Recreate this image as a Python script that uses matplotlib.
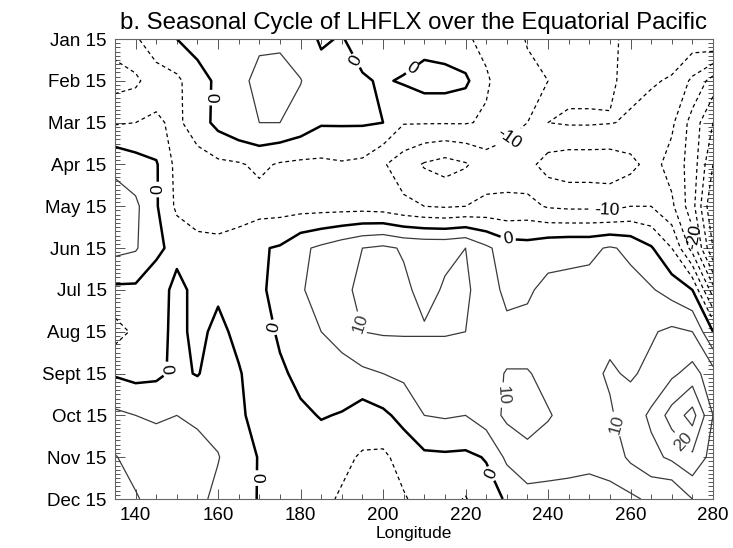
import numpy as np
import matplotlib.pyplot as plt
from matplotlib.ticker import MultipleLocator

plt.rcParams['font.family'] = ['Liberation Sans', 'DejaVu Sans']

lons = [135, 140, 145, 150, 155, 160, 165, 170, 175, 180, 185, 190, 195, 200, 205,
        210, 215, 220, 225, 230, 235, 240, 245, 250, 255, 260, 265, 270, 275, 280]
month_labels = ["Jan 15", "Feb 15", "Mar 15", "Apr 15", "May 15", "Jun 15",
                "Jul 15", "Aug 15", "Sept 15", "Oct 15", "Nov 15", "Dec 15"]

# LHFLX anomaly (W/m2), one list per month
jan = [-8, -5.5, -2.5, 0, 2, 3, 3.5, 4, 4, 2, -0.5, 0.3, -2, -4.5, -3,
       -2, -3, -4.5, -6, -8, -10.3, -11.5, -12, -12, -11.5, -8, -7, -7, -7, -5]
feb = [-12, -11, -7, -6, -2, 1, 3.5, 6.5, 7, 5.2, 1.5, 1, 0.5, -0.5, 0.5,
       2, 2, 1, -4.5, -7, -9, -10, -11, -11, -10.5, -9, -9.5, -10.5, -16, -22]
mar = [-5.5, -5, -4.3, -6, -2.5, 1.5, 4, 5, 5, 3, 0.5, 0.5, 0.5, 0, -4.7,
       -4.7, -4.7, -4.7, -5.5, -8.5, -10, -10, -9.5, -9.5, -9.8, -10.5, -12, -14, -22, -30]
apr = [4, 2, 0.5, -6.5, -7, -6, -5.5, -4, -5.5, -6, -6, -5.5, -6, -9.5, -12.5,
       -15.5, -17, -15.5, -12.5, -12, -13.5, -17, -18, -18, -18, -16.5, -13, -17, -22, -35]
may = [7, 6, 0.5, -6, -6.5, -7, -7, -7, -7, -7, -7, -7, -7, -7.5, -9,
       -10, -10.5, -10, -9, -9, -8.5, -10.5, -11, -11, -11.5, -10, -10, -14, -23, -40]
jun = [6.5, 5.5, 1, -1.5, -4, -4, -3, -0.5, 0.5, 4, 6, 8, 10, 11, 9.5,
       9, 9, 10, 6, 2.5, 2, 3.5, 4, 4, 5.5, 4, 0.5, -5, -17, -35]
jul = [-1, -1, -2.5, 1.5, -1.5, -1, -2, -1, 2, 4.5, 7, 9, 11, 12, 11,
       8.5, 10.5, 11, 7, 4, 4.5, 6, 6, 6.5, 7, 6.5, 5.5, 3, 0, -18]
aug = [-7, -4, -2, 1.5, -1.5, 1.5, -1.5, -3, 1, 3, 5, 7, 10, 10.5, 10.5,
       10.5, 10.5, 10, 7, 6, 6, 7, 7.5, 8.5, 9, 8.5, 9.5, 11, 10, 0]
sep = [-0.5, -1.5, -1, 1, -0.3, 2.5, 0.5, -3, -1, 1.5, 2.5, 3, 4, 5, 6,
       6, 6, 6, 7, 10.5, 10.5, 8, 8, 9, 10.5, 9.5, 11, 14, 17, 12]
oct_ = [6, 5, 4.5, 5, 4.5, 3.5, 1, -2, -2, -1, 0.3, -0.3, -2.5, -1, 1.5,
        5, 5.5, 5, 7.5, 11, 12, 10.5, 8, 8.5, 9.5, 12, 16, 22, 27, 15]
nov = [10.3, 8, 7, 6.5, 6, 5.2, 2.5, -0.3, -3, -3, -2.5, -4, -5.5, -6, -3,
       -1, -0.8, -1, 0.3, 6, 8.5, 7, 5.5, 6, 7, 11, 13.5, 16, 19, 13]
dec = [13, 10.5, 8, 7, 6, 4, 2, -0.3, -2, -3, -4, -5.5, -7, -6.5, -5.5,
       -3, -3.5, -5.3, -2, 0.5, 3, 3.5, 4.5, 3.5, 3.5, 4, 6, 5, 10, 12]

lhflx = np.array([jan, feb, mar, apr, may, jun, jul, aug, sep, oct_, nov, dec])
month_pos = np.arange(len(month_labels))

# where the contour labels sit (lon, month index)
label_spots = [(157, 1.4), (193.8, 0.5), (207, 0.7), (144.5, 3.6), (146.9, 7.9),
               (173.2, 6.9), (169.5, 10.5), (226, 10.4), (230.3, 4.76),
               (195, 6.8), (227, 8.5), (256.8, 9.2), (272, 9.7),
               (229, 2.2), (254.3, 4.1), (277, 4.7)]

labeled = [-20, -10, 0, 10, 20]
levels = np.arange(-40, 35, 5)


def line_style(lev):
    if lev < 0:
        return 'black', 0.9, (0, (3, 2.5))
    if lev == 0:
        return 'black', 1.8, 'solid'
    return '#3a3a3a', 0.9, 'solid'


fig = plt.figure(figsize=(7.33, 5.48), dpi=100)
ax = fig.add_axes([115 / 733, 49 / 548, 598 / 733, 460 / 548])

plain = [lev for lev in levels if lev not in labeled]
for group in (plain, labeled):
    st = [line_style(lev) for lev in group]
    cs = ax.contour(lons, month_pos, lhflx, levels=group,
                    colors=[s[0] for s in st], linewidths=[s[1] for s in st],
                    linestyles=[s[2] for s in st])
ax.clabel(cs, fmt='%d', fontsize=12.5, inline_spacing=3, manual=label_spots)

ax.set_xlim(135, 280)
ax.set_ylim(11, 0)
ax.set_xticks([140, 160, 180, 200, 220, 240, 260, 280])
ax.xaxis.set_minor_locator(MultipleLocator(5))
ax.set_yticks(month_pos)
ax.set_yticklabels(month_labels)
ax.yaxis.set_minor_locator(MultipleLocator(0.1))
ax.tick_params(which='both', direction='in', top=True, right=True,
               labelsize=13.5, color='#555555', width=0.7)
ax.tick_params(which='major', length=7, pad=6)
ax.tick_params(which='minor', length=3.5)
for sp in ax.spines.values():
    sp.set_color('#666666')
    sp.set_linewidth(0.8)

ax.set_xlabel('Longitude', fontsize=12.5, labelpad=1)
ax.set_title('b. Seasonal Cycle of LHFLX over the Equatorial Pacific',
             fontsize=17.3, pad=7)

fig.savefig('out.png', dpi=100)
